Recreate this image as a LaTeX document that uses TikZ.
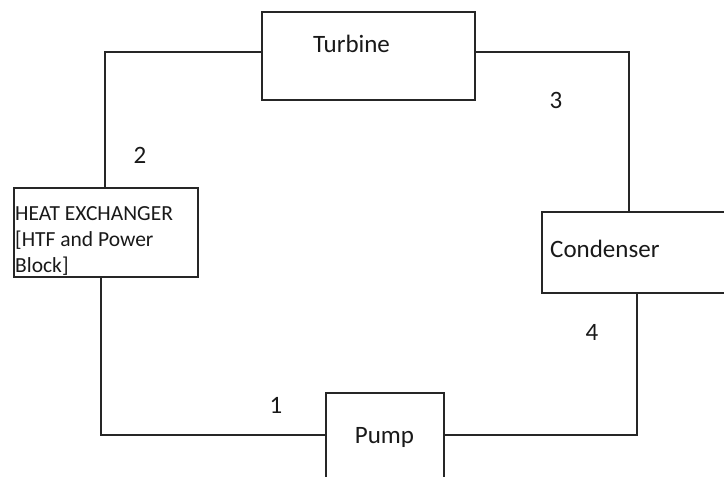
\documentclass[tikz,border=0pt]{standalone}
\usepackage{fontspec}
\setmainfont{Carlito}
\begin{document}
\begin{tikzpicture}[x=1pt,y=-1pt,
  box/.style={draw=black!85,line width=1.6pt,rectangle,inner sep=0pt,anchor=north west},
  wire/.style={draw=black!85,line width=1.6pt},
  lbl/.style={inner sep=0pt,anchor=base,font=\fontsize{25}{30}\selectfont,text=black!90}]
\useasboundingbox (0,0) rectangle (724,477);
\clip (0,0) rectangle (724,477);
% boxes
\node[box,minimum width=213pt,minimum height=88pt] (turb) at (261,11) {};
\node[box,minimum width=184pt,minimum height=89pt] (he) at (13,187) {};
\node[box,minimum width=200pt,minimum height=81pt] (cond) at (541,211) {};
\node[box,minimum width=118pt,minimum height=100pt] (pump) at (325,392) {};
% connectors
\draw[wire] ([xshift=92pt]he.north west) |- ([yshift=4pt]turb.west);
\draw[wire] ([yshift=4pt]turb.east) -| ([xshift=88pt]cond.north west);
\draw[wire] ([xshift=96pt]cond.south west) |- ([yshift=-43pt]pump.north east);
\draw[wire] ([yshift=-43pt]pump.north west) -| ([xshift=88pt]he.south west);
% texts
\node[lbl] (tturb) at (351.5,52) {Turbine};
\node[lbl,anchor=base west] (tcond) at (550,257) {Condenser};
\node[lbl] (tpump) at (384.5,443) {Pump};
\node[inner sep=0pt,anchor=base west,align=left,font=\fontsize{21.5}{26}\selectfont,text=black!90] (the) at (15,272) {HEAT EXCHANGER\\{[}HTF and Power\\Block]};
\node[lbl] (n1) at (276,413) {1};
\node[lbl] (n2) at (140,163) {2};
\node[lbl] (n3) at (556,108) {3};
\node[lbl] (n4) at (592,340) {4};
\end{tikzpicture}
\end{document}
